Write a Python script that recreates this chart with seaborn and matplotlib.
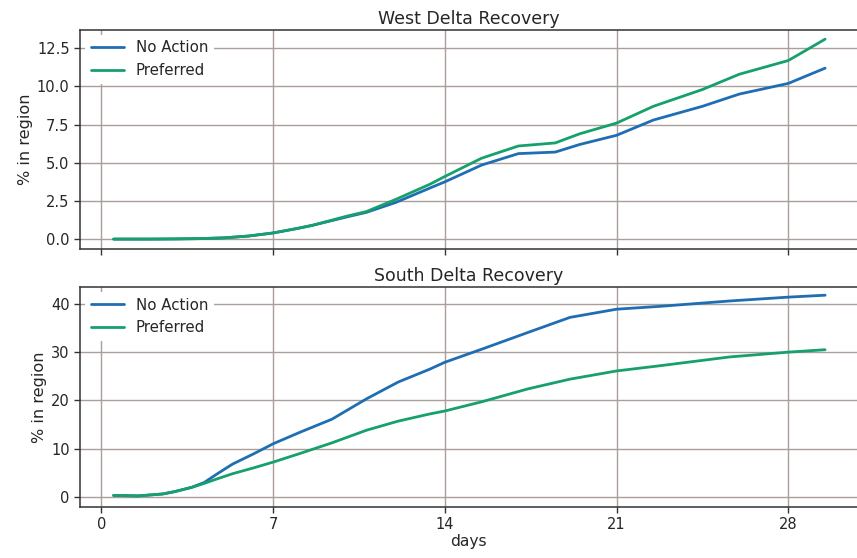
import numpy as np
import pandas as pd
import matplotlib
matplotlib.use("Agg")
import matplotlib.pyplot as plt
import seaborn as sns

# ---- data ----
west_days = [0.5, 2, 3, 4, 5, 6, 7, 8, 8.6, 10, 10.8, 12, 13.4, 14, 15.5, 17,
             18.5, 19.5, 21, 22.5, 24.5, 26, 28, 29.5]
west_no_action = [0, 0, 0.01, 0.03, 0.08, 0.2, 0.4, 0.7, 0.9, 1.45, 1.75, 2.4,
                  3.35, 3.75, 4.85, 5.6, 5.7, 6.2, 6.8, 7.8, 8.7, 9.5, 10.2, 11.2]
west_preferred = [0, 0, 0.01, 0.03, 0.08, 0.2, 0.4, 0.7, 0.9, 1.5, 1.8, 2.6,
                  3.6, 4.1, 5.3, 6.1, 6.3, 6.9, 7.6, 8.7, 9.8, 10.8, 11.7, 13.1]

south_days = [0.5, 1.5, 2.5, 3.0, 3.7, 4.2, 4.7, 5.35, 6.2, 7, 8.1, 9.4, 10.8,
              12.1, 13.4, 14, 15.5, 17.4, 19.1, 21, 22.8, 25.6, 28, 29.5]
south_no_action = [0.3, 0.2, 0.6, 1.1, 2.0, 3.0, 4.7, 6.8, 8.9, 11.0, 13.4, 16.1,
                   20.3, 23.8, 26.5, 27.9, 30.6, 34.1, 37.2, 38.9, 39.5, 40.6,
                   41.4, 41.8]
south_preferred = [0.3, 0.2, 0.6, 1.1, 2.0, 2.8, 3.7, 4.8, 6.0, 7.2, 9.0, 11.2,
                   13.8, 15.7, 17.2, 17.8, 19.7, 22.4, 24.4, 26.1, 27.2, 29.0,
                   30.0, 30.5]

scenarios = ["No Action", "Preferred"]
titles = ["West Delta Recovery", "South Delta Recovery"]
x_ticks = [0, 7, 14, 21, 28]

def long_df(days, a, b):
    return pd.DataFrame({
        "days": list(days) + list(days),
        "pct": list(a) + list(b),
        "scenario": [scenarios[0]] * len(a) + [scenarios[1]] * len(b),
    })

west_df = long_df(west_days, west_no_action, west_preferred)
south_df = long_df(south_days, south_no_action, south_preferred)

# ---- style ----
sns.set_style("whitegrid", {"grid.color": "#ab9d9a", "axes.edgecolor": "#333333"})
plt.rcParams["font.family"] = ["DejaVu Sans"]
palette = {"No Action": "#1f6db3", "Preferred": "#16a06c"}

fig = plt.figure(figsize=(8.57, 5.58), dpi=100)
ax1 = fig.add_axes([80 / 857, 1 - 249 / 558, 777 / 857, 219 / 558])
ax2 = fig.add_axes([80 / 857, 1 - 507 / 558, 777 / 857, 220 / 558], sharex=ax1)

for ax, df, title in [(ax1, west_df, titles[0]), (ax2, south_df, titles[1])]:
    sns.lineplot(data=df, x="days", y="pct", hue="scenario", palette=palette,
                 linewidth=2.0, ax=ax)
    ax.set_title(title, fontsize=12.5, pad=4)
    ax.set_ylabel("% in region", fontsize=11.6, labelpad=3)
    ax.set_xlabel("")
    ax.grid(True, linewidth=1.0)
    for s in ["left", "bottom", "top"]:
        ax.spines[s].set_visible(True)
        ax.spines[s].set_color("#333333")
        ax.spines[s].set_linewidth(1.1)
    ax.spines["right"].set_visible(False)
    ax.tick_params(axis="both", labelsize=10.5, length=4, width=1, direction="out",
                   left=True, bottom=True, color="#333333")
    leg = ax.legend(loc="upper left", frameon=True, fontsize=10.8,
                    handlelength=2.2, borderaxespad=0.3)
    leg.get_frame().set_edgecolor("none")
    leg.get_frame().set_facecolor("white")
    leg.get_frame().set_alpha(1.0)

ax1.set_xlim(-0.87, 30.8)
ax1.set_xticks(x_ticks)
ax1.tick_params(axis="x", labelbottom=False)
ax1.set_ylim(-0.65, 13.7)
ax1.set_yticks([0, 2.5, 5.0, 7.5, 10.0, 12.5])
ax1.set_yticklabels(["0.0", "2.5", "5.0", "7.5", "10.0", "12.5"])

ax2.set_ylim(-2.1, 43.5)
ax2.set_yticks([0, 10, 20, 30, 40])
ax2.set_xlabel("days", fontsize=11.2, labelpad=1)

fig.savefig("out.png", dpi=100)
